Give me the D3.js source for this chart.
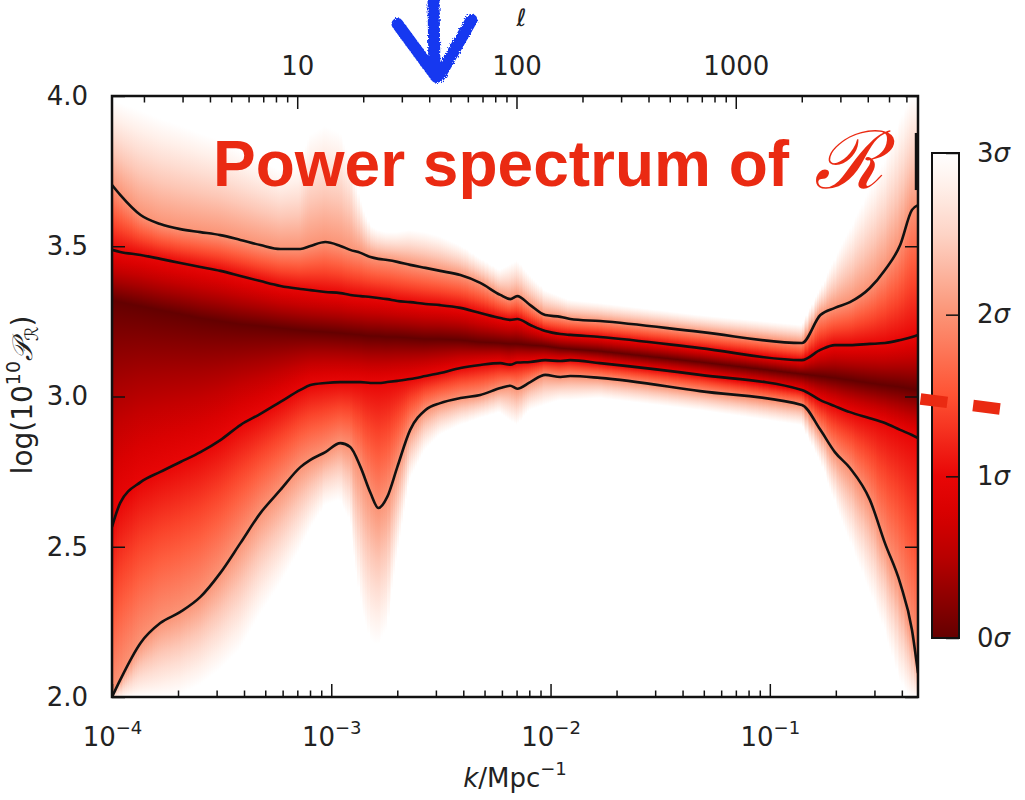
<!DOCTYPE html>
<html>
<head>
<meta charset="utf-8">
<script src="https://cdn.jsdelivr.net/npm/d3@7/dist/d3.min.js"></script>
<style>
  body { margin: 0; background: #fff; }
  text { font-family: "DejaVu Sans", sans-serif; fill: #222; }
</style>
</head>
<body>
<script>
var kGrid = [1.00e-4, 1.09e-4, 1.35e-4, 1.66e-4, 2.05e-4, 2.53e-4, 3.12e-4, 3.85e-4, 4.75e-4, 5.86e-4,
  7.23e-4, 8.03e-4, 9.40e-4, 1.10e-3, 1.22e-3, 1.36e-3, 1.51e-3, 1.64e-3, 1.80e-3, 2.00e-3,
  2.29e-3, 2.69e-3, 3.14e-3, 3.88e-3, 4.78e-3, 5.90e-3, 6.55e-3, 7.05e-3, 8.08e-3, 9.46e-3,
  1.11e-2, 1.23e-2, 1.68e-2, 4.81e-2, 0.140, 0.170, 0.198, 0.232, 0.286, 0.335,
  0.393, 0.445, 0.474];

// log(10^10 P_R) along the ridge (0 sigma)
var centre = [3.321, 3.314, 3.301, 3.288, 3.275, 3.261, 3.251, 3.241, 3.235, 3.228,
  3.221, 3.218, 3.215, 3.211, 3.208, 3.205, 3.201, 3.201, 3.198, 3.198,
  3.195, 3.191, 3.191, 3.188, 3.181, 3.178, 3.175, 3.175, 3.171, 3.168,
  3.161, 3.158, 3.151, 3.115, 3.075, 3.068, 3.062, 3.055, 3.045, 3.038,
  3.032, 3.025, 3.022];

// 1 sigma contours (black lines)
var upper1 = [3.488, 3.481, 3.471, 3.458, 3.444, 3.431, 3.418, 3.401, 3.384, 3.368,
  3.358, 3.354, 3.348, 3.344, 3.338, 3.334, 3.331, 3.328, 3.324, 3.318,
  3.314, 3.308, 3.304, 3.295, 3.278, 3.261, 3.255, 3.258, 3.238, 3.218,
  3.208, 3.205, 3.198, 3.161, 3.121, 3.155, 3.171, 3.171, 3.175, 3.178,
  3.188, 3.198, 3.205];
var lower1 = [2.566, 2.646, 2.715, 2.749, 2.782, 2.815, 2.855, 2.905, 2.942, 2.982,
  3.022, 3.038, 3.045, 3.048, 3.048, 3.048, 3.045, 3.045, 3.048, 3.052,
  3.058, 3.068, 3.078, 3.095, 3.105, 3.111, 3.106, 3.113, 3.115, 3.121,
  3.118, 3.121, 3.111, 3.072, 3.022, 2.988, 2.968, 2.948, 2.928, 2.912,
  2.889, 2.872, 2.862];

// 2 sigma contours (black lines)
var upper2 = [3.704, 3.671, 3.604, 3.574, 3.557, 3.547, 3.537, 3.521, 3.504, 3.491,
  3.491, 3.501, 3.514, 3.501, 3.488, 3.478, 3.464, 3.458, 3.454, 3.448,
  3.438, 3.428, 3.418, 3.404, 3.378, 3.338, 3.324, 3.334, 3.304, 3.271,
  3.265, 3.258, 3.251, 3.215, 3.178, 3.271, 3.295, 3.314, 3.361, 3.421,
  3.504, 3.621, 3.637];
var lower2 = [2.000, 2.057, 2.180, 2.246, 2.283, 2.333, 2.413, 2.512, 2.612, 2.689,
  2.765, 2.789, 2.815, 2.845, 2.832, 2.765, 2.679, 2.629, 2.666, 2.765,
  2.889, 2.955, 2.978, 2.995, 3.005, 3.028, 3.036, 3.026, 3.048, 3.072,
  3.065, 3.068, 3.062, 3.018, 2.972, 2.889, 2.815, 2.762, 2.656, 2.512,
  2.379, 2.223, 2.080];

// where the shading fades out to white (3 sigma)
var upper3 = [3.987, 3.977, 3.953, 3.927, 3.903, 3.877, 3.854, 3.820, 3.787, 3.754,
  3.770, 3.870, 3.900, 3.880, 3.800, 3.654, 3.571, 3.554, 3.547, 3.547,
  3.554, 3.547, 3.534, 3.504, 3.461, 3.421, 3.438, 3.454, 3.404, 3.354,
  3.334, 3.321, 3.311, 3.271, 3.238, 3.354, 3.454, 3.554, 3.687, 3.787,
  3.920, 4.000, 4.020];
var lower3 = [1.990, 1.990, 1.990, 1.990, 2.007, 2.040, 2.090, 2.156, 2.273, 2.373,
  2.489, 2.556, 2.639, 2.656, 2.589, 2.323, 2.190, 2.173, 2.223, 2.456,
  2.722, 2.822, 2.872, 2.905, 2.928, 2.948, 2.922, 2.905, 2.955, 2.972,
  2.988, 2.988, 2.995, 2.955, 2.905, 2.789, 2.656, 2.522, 2.356, 2.223,
  2.057, 1.990, 1.990];

// bit of contour stuck on the right edge
var edgeK = [0.468, 0.468];
var edgeV = [3.877, 3.687];

var kMajor = [1e-4, 1e-3, 1e-2, 1e-1];
var kMajorExp = ["\u22124", "\u22123", "\u22122", "\u22121"];
var kMinor = [2e-4, 3e-4, 4e-4, 5e-4, 6e-4, 7e-4, 8e-4, 9e-4,
  2e-3, 3e-3, 4e-3, 5e-3, 6e-3, 7e-3, 8e-3, 9e-3,
  2e-2, 3e-2, 4e-2, 5e-2, 6e-2, 7e-2, 8e-2, 9e-2,
  0.2, 0.3, 0.4];
var ellMajor = [10, 100, 1000];
var ellMinor = [2, 3, 4, 5, 6, 7, 8, 9, 20, 30, 40, 50, 60, 70, 80, 90,
  200, 300, 400, 500, 600, 700, 800, 900, 2000, 3000, 4000, 5000, 6000];
var pTicks = [2.0, 2.5, 3.0, 3.5, 4.0];
var sigmaTicks = [0, 1, 2, 3];
var sigmaStops = [0, 0.25, 0.5, 0.75, 1, 1.5, 2, 2.5, 2.8, 3];
var sigmaColours = ["#640000", "#8e0000", "#b80000", "#d60000", "#e80606",
  "#ff5233", "#fb9375", "#fdd4c6", "#fff0ea", "#ffffff"];

var ellPerK = 14300;   // l ~ k * D_A
var kArrow = 3.05e-3;  // where the blue arrow points
var markLevel = 1.5;   // sigma level of the red dashes

var svgWidth = 1025;
var svgHeight = 800;
var plot = { left: 112, right: 918, top: 96, bottom: 697 };
var tickFont = 26;

var svg = d3.select("body")
  .append("svg")
  .attr("width", svgWidth)
  .attr("height", svgHeight);

var defs = svg.append("defs");

var xScale = d3.scaleLog().domain([kGrid[0], kGrid[kGrid.length - 1]]).range([plot.left, plot.right]);
var ellScale = d3.scaleLog()
  .domain(xScale.domain().map(function (k) { return k * ellPerK; }))
  .range([plot.left, plot.right]);
var yScale = d3.scaleLinear().domain([2, 4]).range([plot.bottom, plot.top]);
var colour = d3.scaleLinear().domain(sigmaStops).range(sigmaColours).clamp(true);

// each contour as a piecewise function of k (linear in log k)
function curveOf(values) {
  return d3.scaleLog().domain(kGrid).range(values);
}
var upSide = [centre, upper1, upper2, upper3].map(curveOf);
var downSide = [centre, lower1, lower2, lower3].map(curveOf);

function sigmaY(side, k, s) {
  var seg = Math.min(Math.floor(s), 2);
  var f = s - seg;
  var a = yScale(side[seg](k));
  var b = yScale(side[seg + 1](k));
  return a + (b - a) * f;
}

defs.append("clipPath").attr("id", "plot-clip")
  .append("rect")
  .attr("x", plot.left).attr("y", plot.top)
  .attr("width", plot.right - plot.left).attr("height", plot.bottom - plot.top);

// shaded sigma field, one vertical gradient per pixel column
var nCols = 403;
var lk0 = Math.log10(xScale.domain()[0]);
var lk1 = Math.log10(xScale.domain()[1]);
var colEdges = d3.range(nCols + 1).map(function (i) { return Math.pow(10, lk0 + (lk1 - lk0) * i / nCols); });
var steps = d3.range(0, 3.001, 0.2);

var columns = colEdges.slice(0, -1).map(function (k0, i) {
  var k1 = colEdges[i + 1];
  var km = Math.sqrt(k0 * k1);
  var stops = [];
  steps.slice().reverse().forEach(function (s) { stops.push({ y: sigmaY(upSide, km, s), s: s }); });
  steps.slice(1).forEach(function (s) { stops.push({ y: sigmaY(downSide, km, s), s: s }); });
  var last = 0;
  stops.forEach(function (d) {
    var o = (d.y - plot.top) / (plot.bottom - plot.top);
    o = Math.max(last, Math.min(1, Math.max(0, o)));
    d.o = o;
    last = o;
  });
  return { k0: k0, k1: k1, stops: stops, id: "col" + i };
});

var grads = defs.selectAll("linearGradient.col")
  .data(columns)
  .enter()
  .append("linearGradient")
  .attr("class", "col")
  .attr("id", function (d) { return d.id; })
  .attr("gradientUnits", "userSpaceOnUse")
  .attr("x1", 0).attr("x2", 0)
  .attr("y1", plot.top).attr("y2", plot.bottom);

grads.selectAll("stop")
  .data(function (d) { return d.stops; })
  .enter()
  .append("stop")
  .attr("offset", function (d) { return d.o; })
  .attr("stop-color", function (d) { return colour(d.s); });

var field = svg.append("g").attr("clip-path", "url(#plot-clip)");

field.selectAll("rect.col")
  .data(columns)
  .enter()
  .append("rect")
  .attr("class", "col")
  .attr("x", function (d) { return Math.floor(xScale(d.k0)); })
  .attr("width", function (d) { return Math.ceil(xScale(d.k1)) - Math.floor(xScale(d.k0)) + 1; })
  .attr("y", plot.top)
  .attr("height", plot.bottom - plot.top)
  .attr("shape-rendering", "crispEdges")
  .attr("fill", function (d) { return "url(#" + d.id + ")"; });

// contour lines
var line = d3.line()
  .x(function (d) { return xScale(d[0]); })
  .y(function (d) { return yScale(d[1]); })
  .curve(d3.curveMonotoneX);

[upper1, lower1, upper2, lower2].forEach(function (vals) {
  field.append("path")
    .datum(d3.zip(kGrid, vals))
    .attr("d", line)
    .attr("fill", "none")
    .attr("stroke", "#111")
    .attr("stroke-width", 2.6)
    .attr("stroke-linejoin", "round");
});

field.append("path")
  .datum(d3.zip(edgeK, edgeV))
  .attr("d", d3.line().x(function (d) { return xScale(d[0]); }).y(function (d) { return yScale(d[1]); }))
  .attr("stroke", "#111")
  .attr("stroke-width", 4);

// axes, ticks pointing inward
function styleAxis(g) {
  g.select(".domain").remove();
  g.selectAll(".tick line").attr("stroke", "#111").attr("stroke-width", 1.5);
  g.selectAll("text").attr("font-size", tickFont).attr("fill", "#222").attr("font-family", "DejaVu Sans");
}

svg.append("g")
  .attr("transform", "translate(0," + plot.bottom + ")")
  .call(d3.axisBottom(xScale).tickValues(kMinor).tickSize(-6.5).tickFormat(""))
  .call(styleAxis);

var xAxisG = svg.append("g")
  .attr("transform", "translate(0," + plot.bottom + ")")
  .call(d3.axisBottom(xScale).tickValues(kMajor).tickSize(-13).tickPadding(0).tickFormat(function () { return ""; }))
  .call(styleAxis);

xAxisG.selectAll(".tick text").each(function (d, i) {
  var t = d3.select(this).attr("dy", null).attr("y", 49);
  t.append("tspan").text("10");
  t.append("tspan").attr("font-size", 18).attr("dy", -12).text(kMajorExp[i]);
});

svg.append("g")
  .attr("transform", "translate(0," + plot.top + ")")
  .call(d3.axisTop(ellScale).tickValues(ellMinor).tickSize(-6.5).tickFormat(""))
  .call(styleAxis);

svg.append("g")
  .attr("transform", "translate(0," + plot.top + ")")
  .call(d3.axisTop(ellScale).tickValues(ellMajor).tickSize(-13).tickPadding(21).tickFormat(d3.format("d")))
  .call(styleAxis);

svg.append("g")
  .attr("transform", "translate(" + plot.left + ",0)")
  .call(d3.axisLeft(yScale).tickValues(pTicks).tickSize(-13).tickPadding(24).tickFormat(d3.format(".1f")))
  .call(styleAxis);

svg.append("g")
  .attr("transform", "translate(" + plot.right + ",0)")
  .call(d3.axisLeft(yScale).tickValues(pTicks).tickSize(13).tickFormat(""))
  .call(styleAxis);

svg.append("rect")
  .attr("x", plot.left).attr("y", plot.top)
  .attr("width", plot.right - plot.left).attr("height", plot.bottom - plot.top)
  .attr("fill", "none")
  .attr("stroke", "#111")
  .attr("stroke-width", 2.5);

// axis titles
var xTitle = svg.append("text")
  .attr("x", (plot.left + plot.right) / 2)
  .attr("y", 787)
  .attr("text-anchor", "middle")
  .attr("font-size", 26);
xTitle.append("tspan").attr("font-style", "italic").text("k");
xTitle.append("tspan").text("/Mpc");
xTitle.append("tspan").attr("font-size", 18).attr("dy", -12).text("\u22121");

var yTitle = svg.append("text")
  .attr("transform", "translate(32,395) rotate(-90)")
  .attr("text-anchor", "middle")
  .attr("font-size", 28);
yTitle.append("tspan").text("log(10");
yTitle.append("tspan").attr("font-size", 19).attr("dy", -12).text("10");
yTitle.append("tspan").attr("dy", 12).attr("font-style", "italic").text("\uD835\uDCAB");
yTitle.append("tspan").attr("font-size", 18).attr("dy", 6).text("\u211B");
yTitle.append("tspan").attr("dy", -6).text(")");

svg.append("text")
  .attr("x", ellScale(100) + 5)
  .attr("y", 26)
  .attr("text-anchor", "middle")
  .attr("font-size", 24)
  .attr("font-style", "italic")
  .text("\u2113");

// colour bar
var cb = { x: 932, w: 27, top: 153, bottom: 638 };
var cbScale = d3.scaleLinear().domain([0, 3]).range([cb.bottom, cb.top]);

var cbGrad = defs.append("linearGradient")
  .attr("id", "cb-grad")
  .attr("x1", 0).attr("x2", 0).attr("y1", 1).attr("y2", 0);
cbGrad.selectAll("stop")
  .data(d3.range(0, 3.001, 0.1))
  .enter()
  .append("stop")
  .attr("offset", function (d) { return d / 3; })
  .attr("stop-color", function (d) { return colour(d); });

svg.append("rect")
  .attr("x", cb.x).attr("y", cb.top)
  .attr("width", cb.w).attr("height", cb.bottom - cb.top)
  .attr("fill", "url(#cb-grad)")
  .attr("stroke", "#111")
  .attr("stroke-width", 2);

var cbAxis = svg.append("g")
  .attr("transform", "translate(" + (cb.x + cb.w) + ",0)")
  .call(d3.axisRight(cbScale).tickValues(sigmaTicks).tickSize(-13).tickPadding(18).tickFormat(function () { return ""; }))
  .call(styleAxis);

cbAxis.selectAll(".tick text").each(function (d) {
  var t = d3.select(this);
  t.append("tspan").text(d);
  t.append("tspan").attr("font-style", "italic").text("\u03C3");
});

// red dashes next to the colour bar
var markY = cbScale(markLevel);
svg.append("line")
  .attr("x1", 920.5).attr("y1", markY + 3.5)
  .attr("x2", 1000.5).attr("y2", markY + 13.5)
  .attr("stroke", "#ea2a12")
  .attr("stroke-width", 11.5)
  .attr("stroke-dasharray", "27 26");

// title
var title = svg.append("g");
title.append("text")
  .attr("x", 213)
  .attr("y", 186)
  .attr("font-weight", "bold")
  .attr("font-size", 64)
  .style("font-family", "'Liberation Sans', Arial, sans-serif")
  .style("fill", "#ea2a12")
  .text("Power spectrum of");
title.append("text")
  .attr("x", 814)
  .attr("y", 188)
  .attr("font-size", 80)
  .style("font-family", "'DejaVu Serif', serif")
  .style("font-style", "italic")
  .style("fill", "#ea2a12")
  .text("\u211B");

// hand drawn arrow
var rough = defs.append("filter").attr("id", "rough");
rough.append("feTurbulence").attr("type", "fractalNoise").attr("baseFrequency", 0.6).attr("numOctaves", 2).attr("result", "n");
rough.append("feDisplacementMap").attr("in", "SourceGraphic").attr("in2", "n").attr("scale", 4);

var ax = xScale(kArrow);
var arrowPath = d3.path();
arrowPath.moveTo(ax - 4, -2); arrowPath.lineTo(ax - 3, 70);
arrowPath.moveTo(ax - 40, 24); arrowPath.lineTo(ax - 1, 77);
arrowPath.moveTo(ax + 34, 20); arrowPath.lineTo(ax + 2, 76);

svg.append("path")
  .attr("d", arrowPath.toString())
  .attr("fill", "none")
  .attr("stroke", "#1338f0")
  .attr("stroke-width", 12)
  .attr("stroke-linecap", "round")
  .attr("filter", "url(#rough)");
</script>
</body>
</html>
